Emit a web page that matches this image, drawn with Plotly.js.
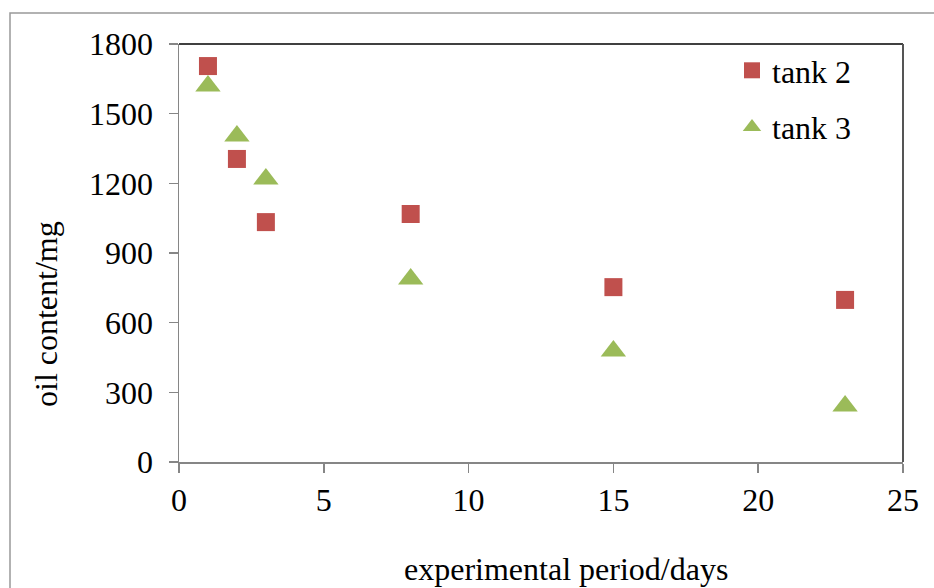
<!DOCTYPE html>
<html>
<head>
<meta charset="utf-8">
<script src="https://cdn.plot.ly/plotly-3.0.1.min.js"></script>
<style>
html,body{margin:0;padding:0;background:#fff;}
#chart{width:934px;height:588px;}
</style>
</head>
<body>
<div id="chart"></div>
<script>
const days = [1, 2, 3, 8, 15, 23];
const tank2 = [1705, 1305, 1033, 1068, 753, 698];
const tank3 = [1619, 1404, 1219, 788, 478, 241];
const seriesNames = ["tank 2", "tank 3"];
const xTicks = [0, 5, 10, 15, 20, 25];
const yTicks = [0, 300, 600, 900, 1200, 1500, 1800];
const xTitle = "experimental period/days";
const yTitle = "oil content/mg";

const font = "Times New Roman, Liberation Serif, Tinos, DejaVu Serif, serif";
const FS = 32;

const traces = [
  {
    x: days, y: tank2, name: seriesNames[0], type: "scatter", mode: "markers",
    legendgroup: "a",
    marker: {symbol: "square", size: 18, color: "#C0504D"}
  },
  {
    x: days, y: tank3, name: seriesNames[1], type: "scatter", mode: "markers",
    legendgroup: "b",
    marker: {symbol: "triangle-up", size: 22, color: "#9BBB59"}
  }
];

const L = 179, R = 903, T = 44, B = 462, W = 934, H = 588;
const px = v => (v - L) / (R - L);
const py = v => (B - v) / (B - T);

const layout = {
  width: W, height: H,
  margin: {l: L, r: W - R, t: T, b: H - B, pad: 0},
  paper_bgcolor: "#fff", plot_bgcolor: "#fff",
  font: {family: font, size: FS, color: "#000"},
  showlegend: true,
  legend: {
    x: px(732), y: py(43), xanchor: "left", yanchor: "top",
    bgcolor: "rgba(0,0,0,0)", borderwidth: 0,
    font: {family: font, size: FS, color: "#000"},
    traceorder: "grouped", tracegroupgap: 12
  },
  xaxis: {
    range: [0, 25], tickvals: xTicks, ticktext: xTicks.map(String),
    showgrid: false, zeroline: false, showline: true, linecolor: "#868686", linewidth: 1.5,
    ticks: "outside", ticklen: 9, tickcolor: "#868686", tickwidth: 1.5,
    tickfont: {family: font, size: FS, color: "#000"}
  },
  yaxis: {
    range: [0, 1800], tickvals: yTicks, ticktext: yTicks.map(String),
    showgrid: false, zeroline: false, showline: true, linecolor: "#868686", linewidth: 1.5,
    ticks: "outside", ticklen: 9, tickcolor: "#868686", tickwidth: 1.5,
    ticklabelstandoff: 9,
    tickfont: {family: font, size: FS, color: "#000"}
  },
  annotations: [
    {text: xTitle, xref: "paper", yref: "paper", x: px(566), y: py(569), xanchor: "center", yanchor: "middle",
     showarrow: false, font: {family: font, size: FS, color: "#000"}},
    {text: yTitle, xref: "paper", yref: "paper", x: px(46), y: py(314), xanchor: "center", yanchor: "middle",
     textangle: -90, showarrow: false, font: {family: font, size: FS, color: "#000"}}
  ],
  shapes: [
    {type: "line", xref: "paper", yref: "paper", x0: 0, x1: 1, y0: 1, y1: 1, line: {color: "#000", width: 1.5}},
    {type: "line", xref: "paper", yref: "paper", x0: 1, x1: 1, y0: 0, y1: 1, line: {color: "#555", width: 2}},
    {type: "rect", xref: "paper", yref: "paper", x0: px(10), x1: px(960), y0: py(700), y1: py(13), line: {color: "#999", width: 1.5}, layer: "below"}
  ]
};

Plotly.newPlot("chart", traces, layout, {displayModeBar: false, staticPlot: true});
</script>
</body>
</html>
